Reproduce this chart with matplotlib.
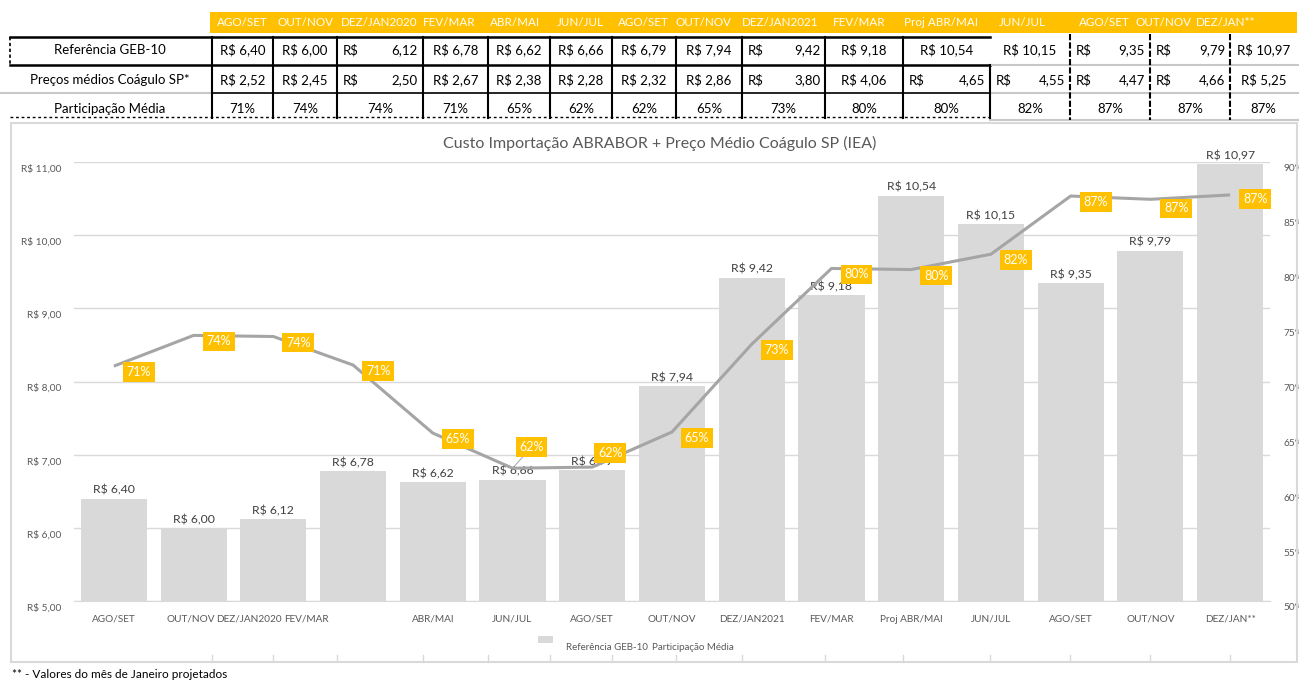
import matplotlib
matplotlib.use("Agg")
import matplotlib.pyplot as plt
import numpy as np
from matplotlib.lines import Line2D
from matplotlib.patches import Rectangle
from matplotlib.transforms import ScaledTranslation

plt.rcParams['font.family'] = ['Lato', 'DejaVu Sans']

# ---------------- data ----------------
categories = ["AGO/SET", "OUT/NOV", "DEZ/JAN2020", "FEV/MAR", "ABR/MAI", "JUN/JUL",
              "AGO/SET", "OUT/NOV", "DEZ/JAN2021", "FEV/MAR", "Proj ABR/MAI", "JUN/JUL",
              "AGO/SET", "OUT/NOV", "DEZ/JAN**"]
geb10 = [6.40, 6.00, 6.12, 6.78, 6.62, 6.66, 6.79, 7.94, 9.42, 9.18, 10.54, 10.15, 9.35, 9.79, 10.97]
coagulo = [2.52, 2.45, 2.50, 2.67, 2.38, 2.28, 2.32, 2.86, 3.80, 4.06, 4.65, 4.55, 4.47, 4.66, 5.25]
participacao_linha = [71.4, 74.2, 74.1, 71.5, 65.3, 62.1, 62.2, 65.4, 73.4, 80.3, 80.2, 81.6, 86.9, 86.6, 87.0]
participacao_tabela = [71, 74, 74, 71, 65, 62, 62, 65, 73, 80, 80, 82, 87, 87, 87]
row_labels = ["Referência GEB-10", "Preços médios Coágulo SP*", "Participação Média"]
acct_row1 = [2, 8, 12, 13]
acct_row2 = [2, 8, 10, 11, 12, 13]
title = "Custo Importação ABRABOR + Preço Médio Coágulo SP (IEA)"
footnote = "** - Valores do mês de Janeiro projetados"

W, H = 1299, 682
fig = plt.figure(figsize=(W / 100, H / 100), dpi=100)
fig.patch.set_facecolor('white')


def fx(x):
    return x / W


def fy(y):
    return 1 - y / H


def brl(v):
    return f"{v:.2f}".replace('.', ',')


ORANGE = '#FFC000'
GREY_TXT = '#595959'
BAR = '#D9D9D9'

# ---------------- table ----------------
col_edges = [212, 273, 337, 423, 488, 550, 612, 676, 742, 825, 903, 990, 1070, 1150, 1230, 1297]
header_x = [242, 306, 379, 449, 515, 580, 643, 704, 780, 859, 941, 1022, 1104, 1163, 1226]
row_y = [50, 80, 109]

fig.add_artist(Rectangle((fx(210), fy(33)), fx(1297) - fx(210), fy(12) - fy(33),
                         transform=fig.transFigure, facecolor=ORANGE, edgecolor='none'))
for hx, lab in zip(header_x, categories):
    fig.text(fx(hx), fy(22), lab, color='white', fontsize=8.4, ha='center', va='center')

for ry, lab in zip(row_y, row_labels):
    fig.text(fx(110), fy(ry), lab, color='black', fontsize=9.5, ha='center', va='center')


def hline(y, x0, x1, color='black', lw=1.5, ls='-'):
    fig.add_artist(Line2D([fx(x0), fx(x1)], [fy(y), fy(y)], transform=fig.transFigure,
                          color=color, lw=lw, ls=ls))


def vline(x, y0, y1, color='black', lw=1.5, ls='-'):
    fig.add_artist(Line2D([fx(x), fx(x)], [fy(y0), fy(y1)], transform=fig.transFigure,
                          color=color, lw=lw, ls=ls))


hline(37, 10, 990, lw=1.8)
hline(65, 10, 990, lw=1.8)
hline(65, 990, 1299, color='#C8C8C8', lw=1.5)
hline(93, 0, 212, color='#C8C8C8', lw=1.5)
hline(93, 212, 990, lw=1.2)
hline(93, 990, 1299, color='#C8C8C8', lw=1.5)
hline(117, 10, 990, lw=1.0, ls=(0, (2, 2)))
hline(120, 990, 1299, color='#C8C8C8', lw=1.5)
vline(10, 37, 65, lw=1.2, ls=(0, (2, 1.5)))
for e in col_edges[:11]:
    vline(e, 37, 118, lw=1.5)
vline(990, 65, 118, lw=1.5)
for e in col_edges[12:15]:
    vline(e, 34, 120, lw=1.5, ls=(0, (3, 1)))

for i in range(len(categories)):
    l, r = col_edges[i], col_edges[i + 1]
    c = (l + r) / 2
    for ry, vals, acct in ((row_y[0], geb10, acct_row1), (row_y[1], coagulo, acct_row2)):
        if i in acct:
            fig.text(fx(l + 6), fy(ry), "R$", fontsize=9.5, ha='left', va='center')
            fig.text(fx(r - 5), fy(ry), brl(vals[i]), fontsize=9.5, ha='right', va='center')
        else:
            fig.text(fx(c), fy(ry), "R$ " + brl(vals[i]), fontsize=9.5, ha='center', va='center')
    fig.text(fx(c), fy(row_y[2]), f"{participacao_tabela[i]}%", fontsize=9.5, ha='center', va='center')

# ---------------- chart frame ----------------
fig.add_artist(Rectangle((fx(11), fy(662)), fx(1297) - fx(11), fy(123) - fy(662),
                         transform=fig.transFigure, facecolor='none', edgecolor='#D9D9D9', lw=1.5))
for e in col_edges[:15]:
    vline(e, 655, 662, color='#D9D9D9', lw=1)

fig.text(fx(660), fy(143), title, color=GREY_TXT, fontsize=11.5, ha='center', va='center')

# ---------------- chart ----------------
ax = fig.add_axes([fx(74), fy(601), fx(1270) - fx(74), fy(162) - fy(601)])
x = np.arange(len(categories))
bars = ax.bar(x, geb10, width=0.83, color=BAR, zorder=2)
ax.bar_label(bars, labels=["R$ " + brl(v) for v in geb10], padding=2, fontsize=8.8, color='#404040')
ax.set_xlim(-0.5, len(categories) - 0.5)
ax.set_ylim(5, 11)
ax.set_yticks(np.arange(5, 12, 1))
ax.set_yticklabels(["R$ " + brl(v) for v in np.arange(5, 12, 1)])
ax.grid(axis='y', color='#D9D9D9', lw=1, zorder=0)
ax.set_axisbelow(True)
for s in ['top', 'right', 'left']:
    ax.spines[s].set_visible(False)
ax.spines['bottom'].set_color('#D9D9D9')
ax.tick_params(axis='y', length=0, pad=9, labelsize=7.3, labelcolor=GREY_TXT)

tick_pos = x.astype(float).copy()
tick_pos[1] -= 0.03
tick_pos[2] -= 0.31
tick_pos[3] -= 0.59
ax.set_xticks(tick_pos)
ax.set_xticklabels(categories)
ax.tick_params(axis='x', length=0, pad=10, labelsize=7.2, labelcolor=GREY_TXT)

shift = ScaledTranslation(0, -6 / 100, fig.dpi_scale_trans)
for lab in ax.get_yticklabels():
    lab.set_transform(lab.get_transform() + shift)

ax2 = ax.twinx()
ax2.set_ylim(50, 90)
ax2.set_yticks(np.arange(50, 91, 5))
ax2.set_yticklabels([f"{v}%" for v in range(50, 91, 5)])
ax2.tick_params(axis='y', length=0, pad=9.5, labelsize=7.3, labelcolor=GREY_TXT)
for s in ax2.spines.values():
    s.set_visible(False)
for lab in ax2.get_yticklabels():
    lab.set_transform(lab.get_transform() + shift)

ax2.plot(x, participacao_linha, color='#A5A5A5', lw=2.2, zorder=3, solid_capstyle='butt')

offsets = [(25, 6)] * len(categories)
offsets[5] = (19, -21)
offsets[6] = (18, -14)
offsets[13] = (26, 9)
offsets[14] = (25, 4)
for i, (p, t) in enumerate(zip(participacao_linha, participacao_tabela)):
    dx, dy = offsets[i]
    kw = {}
    if i == 5:
        kw['arrowprops'] = dict(arrowstyle='-', color='#A5A5A5', lw=0.7, shrinkA=0, shrinkB=0)
    ax2.annotate(f"{t}%", (i, p), xytext=(dx, -dy), textcoords='offset pixels',
                 ha='center', va='center', color='white', fontsize=9, zorder=5,
                 bbox=dict(boxstyle='square,pad=0.3', facecolor=ORANGE, edgecolor='none'), **kw)

# legend (manual)
fig.add_artist(Rectangle((fx(538), fy(643)), fx(553) - fx(538), fy(636) - fy(643),
                         transform=fig.transFigure, facecolor=BAR, edgecolor='none'))
fig.text(fx(566), fy(648), "Referência GEB-10", fontsize=7, color=GREY_TXT, ha='left', va='center')
fig.text(fx(652), fy(648), "Participação Média", fontsize=7, color=GREY_TXT, ha='left', va='center')

fig.text(fx(12), fy(675), footnote, fontsize=8.5, color='black', ha='left', va='center')

fig.savefig("out.png", dpi=100)
